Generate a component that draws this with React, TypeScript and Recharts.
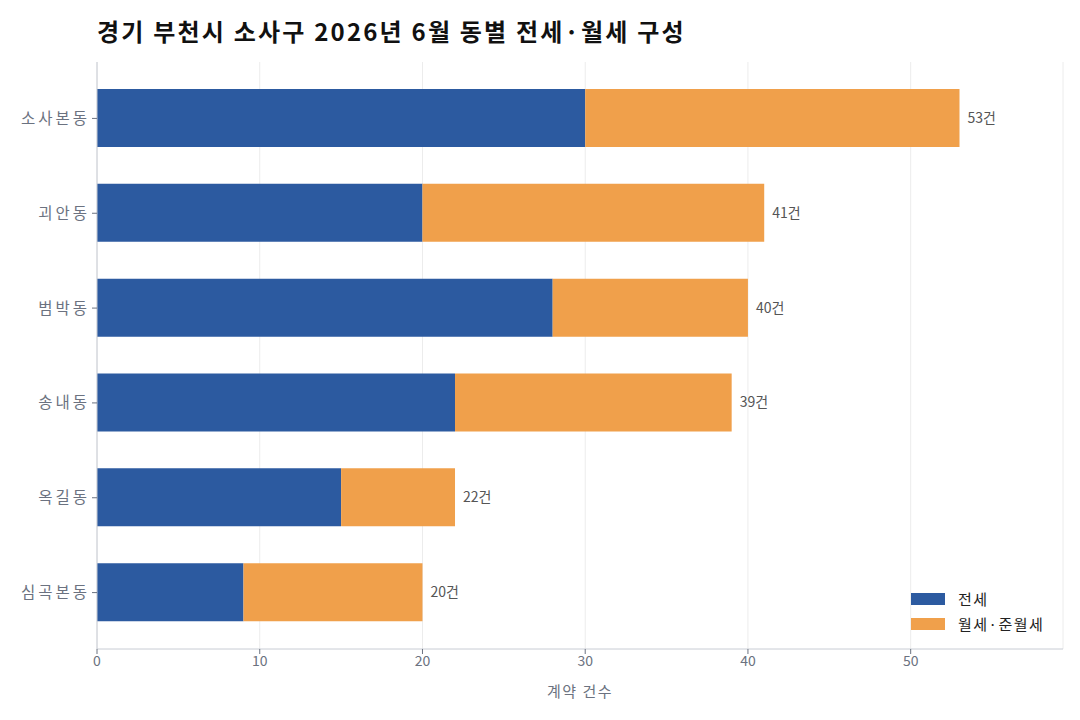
import React from "react"
import { BarChart, Bar, XAxis, YAxis, CartesianGrid, LabelList } from "recharts"

const dongs = ["소사본동", "괴안동", "범박동", "송내동", "옥길동", "심곡본동"]
const jeonse = [30, 20, 28, 22, 15, 9]
const wolse = [23, 21, 12, 17, 7, 11]
const xTicks = [0, 10, 20, 30, 40, 50]

const data = dongs.map((d, i) => ({
  dong: d,
  jeonse: jeonse[i],
  wolse: wolse[i],
  total: jeonse[i] + wolse[i],
}))

const FONT = "'Noto Sans CJK KR', 'Noto Sans', sans-serif"
const BLUE = "#2c5aa0"
const ORANGE = "#f0a04b"
const TICK = "#6b7280"

const legendItems = [
  { label: "전세", color: BLUE },
  { label: "월세·준월세", color: ORANGE },
]

export default function App() {
  return (
    <div style={{ position: "fixed", left: 0, top: 0, width: 1080, height: 720, background: "#fff" }}>
      <div
        style={{
          position: "absolute",
          left: 97,
          top: 13,
          fontFamily: FONT,
          fontWeight: 700,
          fontSize: 24,
          letterSpacing: 2.2,
          color: "#111",
        }}
      >
        경기 부천시 소사구 2026년 6월 동별 전세·월세 구성
      </div>
      <BarChart
        width={1080}
        height={720}
        data={data}
        layout="vertical"
        barSize={58}
        margin={{ top: 62, right: 17, bottom: 21, left: 7 }}
      >
        <CartesianGrid horizontal={false} stroke="#ececec" />
        <XAxis
          type="number"
          domain={[0, 59.36]}
          ticks={xTicks}
          allowDataOverflow
          height={50}
          tick={{ fill: TICK, fontSize: 14, fontFamily: FONT }}
          stroke="#c8ccd4"
          tickLine={{ stroke: "#6b7280" }}
          tickSize={5}
          label={{ value: "계약 건수", position: "insideBottom", offset: 2, fill: TICK, fontSize: 15, fontFamily: FONT, letterSpacing: 1.5 }}
        />
        <YAxis
          type="category"
          dataKey="dong"
          width={90}
          padding={{ top: 9, bottom: 9 }}
          tick={{ fill: TICK, fontSize: 15.5, fontFamily: FONT, letterSpacing: 3 }}
          stroke="#c8ccd4"
          tickLine={{ stroke: "#6b7280" }}
          tickSize={5}
        />
        <Bar dataKey="jeonse" name="전세" stackId="a" fill={BLUE} isAnimationActive={false} />
        <Bar dataKey="wolse" name="월세·준월세" stackId="a" fill={ORANGE} isAnimationActive={false}>
          <LabelList
            dataKey="total"
            position="right"
            offset={8}
            formatter={(v: any) => `${v}건`}
            style={{ fill: "#555", fontSize: 14, fontFamily: FONT }}
          />
        </Bar>
      </BarChart>
      <div style={{ position: "absolute", left: 911, top: 586, fontFamily: FONT, fontSize: 15, letterSpacing: 1.5, color: "#222" }}>
        {legendItems.map((it) => (
          <div key={it.label} style={{ display: "flex", alignItems: "center", height: 25 }}>
            <span style={{ display: "inline-block", width: 34, height: 12, background: it.color, marginRight: 13 }} />
            <span>{it.label}</span>
          </div>
        ))}
      </div>
    </div>
  )
}
